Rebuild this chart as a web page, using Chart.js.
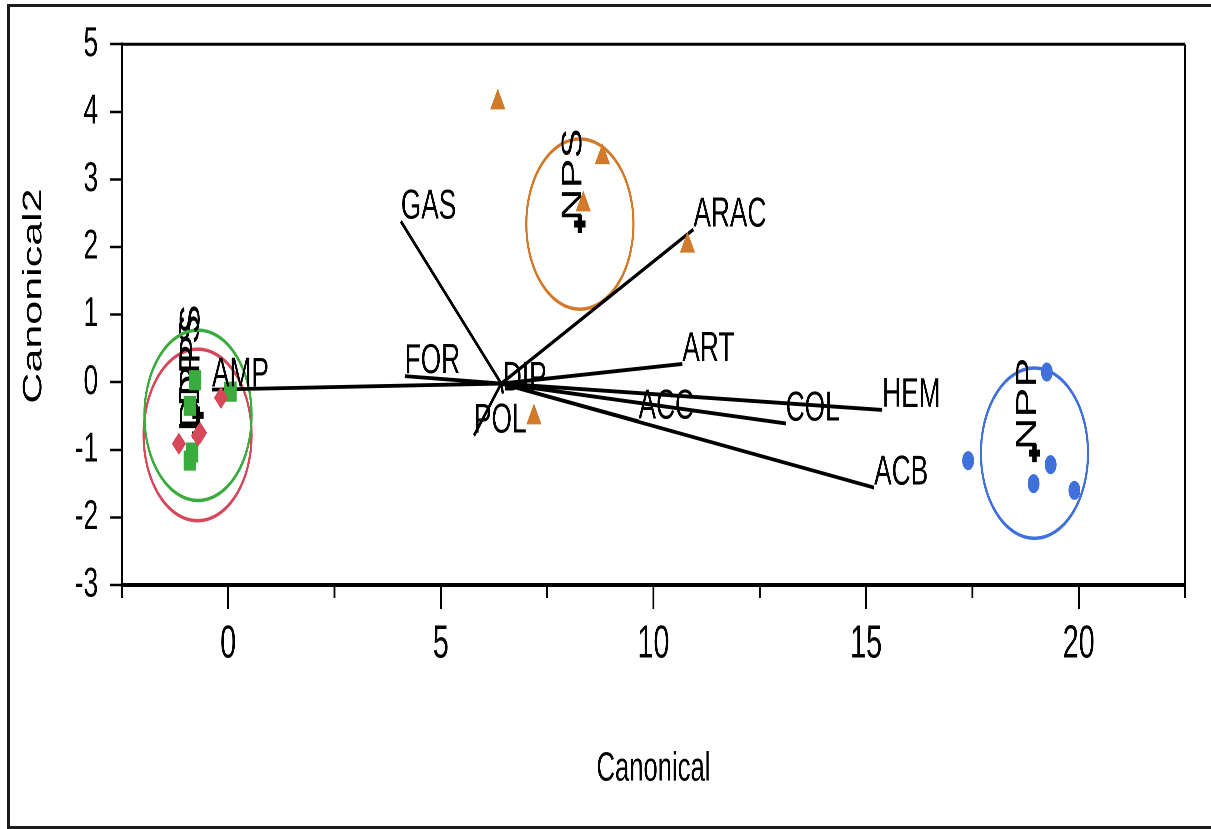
<!DOCTYPE html>
<html lang="en">
<head>
    <meta charset="UTF-8">
    <title>Canonical Plot</title>
    <script src="https://cdn.jsdelivr.net/npm/chart.js"></script>
    <style>
        html, body {
            margin: 0;
            padding: 0;
            background: #ffffff;
            overflow: hidden;
            width: 1211px;
            height: 829px;
        }

        /* outer frame around the whole picture */
        .frame {
            position: absolute;
            left: 7px;
            top: 4px;
            width: 1230px;
            height: 825px;
            box-sizing: border-box;
            border: 3px solid #1c1c1c;
        }

        /* the original picture is squeezed horizontally, so draw wide and squeeze */
        .chart-wrap {
            position: absolute;
            left: 0;
            top: 0;
            width: 1938px;
            height: 829px;
            transform: scaleX(0.625);
            transform-origin: 0 0;
        }
    </style>
</head>
<body>
    <div class="frame"></div>
    <div class="chart-wrap">
        <canvas id="canonicalPlot"></canvas>
    </div>

    <script>
        // Groups: name, colour, marker, centroid, circle radius
        const groupNames = ['NPS', 'NPP', 'LDPS', 'DRPS'];
        const groupColors = ['#d27a2a', '#4070dc', '#d6485a', '#3aac3e'];
        const groupMarkers = ['triangle', 'circle', 'rectRot', 'rect'];
        const centroidX = [8.27, 18.96, -0.72, -0.71];
        const centroidY = [2.34, -1.05, -0.78, -0.49];
        const circleR = [1.26, 1.26, 1.27, 1.26];

        // Observations of each group
        const npsX = [6.34, 8.8, 8.35, 10.8, 7.19];
        const npsY = [4.14, 3.33, 2.63, 2.02, -0.52];
        const nppX = [19.25, 17.4, 19.34, 18.94, 19.9];
        const nppY = [0.15, -1.16, -1.22, -1.5, -1.6];
        const ldpsX = [-0.17, -1.16, -0.71, -0.66];
        const ldpsY = [-0.23, -0.91, -0.79, -0.75];
        const drpsX = [-0.78, -0.9, 0.05, -0.85, -0.9];
        const drpsY = [0.03, -0.35, -0.14, -1.04, -1.16];

        // Biplot rays from a common origin
        const rayOrigin = { x: 6.42, y: -0.02 };
        const rayNames = ['GAS', 'ARAC', 'FOR', 'AMP', 'ART', 'DIP', 'POL', 'ACC', 'COL', 'HEM', 'ACB'];
        const rayX = [4.06, 10.94, 4.15, -0.38, 10.68, 6.46, 5.78, 9.65, 13.11, 15.38, 15.19];
        const rayY = [2.38, 2.26, 0.09, -0.11, 0.27, -0.17, -0.79, -0.58, -0.61, -0.41, -1.56];

        // Axis ticks
        const xMin = -2.5, xMax = 22.5;
        const xTicks = [0, 5, 10, 15, 20];
        const xMinorTicks = [-2.5, 2.5, 7.5, 12.5, 17.5, 22.5];
        const yMin = -3, yMax = 5, yStep = 1;

        const groupX = [npsX, nppX, ldpsX, drpsX];
        const groupY = [npsY, nppY, ldpsY, drpsY];
        // small nudge (px) so the two overlapping labels stack like the original
        const groupLabelShift = [0, 0, 0, 17];

        function toPoints(xs, ys) {
            return xs.map((v, i) => ({ x: v, y: ys[i] }));
        }

        const labelFont = '42px "Liberation Sans", Arial, sans-serif';
        const groupFont = '45px "Liberation Sans", Arial, sans-serif';
        const yTitleFont = '43px "Liberation Sans", Arial, sans-serif';

        // circles, group labels, ray labels, y title, top/right frame and minor ticks
        const extras = {
            id: 'extras',
            beforeDatasetsDraw(chart) {
                const { ctx, scales: { x, y } } = chart;
                ctx.save();
                groupNames.forEach((name, i) => {
                    const cx = x.getPixelForValue(centroidX[i]);
                    const cy = y.getPixelForValue(centroidY[i]);
                    const rx = x.getPixelForValue(centroidX[i] + circleR[i]) - cx;
                    const ry = cy - y.getPixelForValue(centroidY[i] + circleR[i]);
                    ctx.beginPath();
                    ctx.ellipse(cx, cy, rx, ry, 0, 0, Math.PI * 2);
                    ctx.strokeStyle = groupColors[i];
                    ctx.lineWidth = 3.5;
                    ctx.stroke();

                    ctx.save();
                    ctx.translate(cx + 2, cy - 3 + groupLabelShift[i]);
                    ctx.rotate(-Math.PI / 2);
                    ctx.font = groupFont;
                    ctx.fillStyle = '#000';
                    ctx.textAlign = 'left';
                    ctx.textBaseline = 'alphabetic';
                    ctx.fillText(name, 0, 0);
                    ctx.restore();
                });
                ctx.restore();
            },
            afterDatasetsDraw(chart) {
                const { ctx, scales: { x, y } } = chart;
                ctx.save();
                ctx.font = labelFont;
                ctx.fillStyle = '#000';
                ctx.textAlign = 'left';
                ctx.textBaseline = 'alphabetic';
                rayNames.forEach((name, i) => {
                    ctx.fillText(name, x.getPixelForValue(rayX[i]), y.getPixelForValue(rayY[i]) - 3);
                });
                ctx.restore();
            },
            afterDraw(chart) {
                const { ctx, chartArea: a, scales: { x } } = chart;
                ctx.save();
                ctx.strokeStyle = '#000';
                ctx.lineWidth = 3;
                ctx.beginPath();
                ctx.moveTo(a.left, a.top);
                ctx.lineTo(a.right, a.top);
                ctx.moveTo(a.right, a.top);
                ctx.lineTo(a.right, a.bottom);
                ctx.stroke();
                xMinorTicks.forEach(v => {
                    const px = x.getPixelForValue(v);
                    ctx.beginPath();
                    ctx.moveTo(px, a.bottom);
                    ctx.lineTo(px, a.bottom + 13);
                    ctx.stroke();
                });

                // y axis title, sits a little above the middle of the axis
                ctx.translate(54, 296);
                ctx.rotate(-Math.PI / 2);
                ctx.font = yTitleFont;
                ctx.fillStyle = '#000';
                ctx.textAlign = 'center';
                ctx.textBaseline = 'middle';
                ctx.fillText('Canonical2', 0, 0);
                ctx.restore();
            }
        };

        const datasets = [];

        groupNames.forEach((name, i) => {
            datasets.push({
                label: name,
                data: toPoints(groupX[i], groupY[i]),
                pointStyle: groupMarkers[i],
                pointRadius: [13, 9, 10.5, 13.5][i],
                backgroundColor: groupColors[i],
                borderColor: groupColors[i],
                borderWidth: 1
            });
        });

        // centroids, drawn just under the group markers
        datasets.push({
            label: 'centroids',
            data: toPoints(centroidX, centroidY),
            pointStyle: 'cross',
            pointRadius: 9,
            borderColor: '#000',
            borderWidth: 7
        });

        rayNames.forEach((name, i) => {
            datasets.push({
                label: name,
                data: [rayOrigin, { x: rayX[i], y: rayY[i] }],
                showLine: true,
                pointRadius: 0,
                borderColor: '#000',
                borderWidth: 3.8,
                fill: false
            });
        });

        const ctx = document.getElementById('canonicalPlot').getContext('2d');
        new Chart(ctx, {
            type: 'scatter',
            data: { datasets: datasets },
            plugins: [extras],
            options: {
                responsive: true,
                maintainAspectRatio: false,
                animation: false,
                devicePixelRatio: 2,
                layout: {
                    padding: { left: 0, right: 42, top: 42, bottom: 0 }
                },
                plugins: {
                    legend: { display: false },
                    tooltip: { enabled: false }
                },
                scales: {
                    x: {
                        type: 'linear',
                        min: xMin,
                        max: xMax,
                        afterFit: scale => { scale.height = 244; },
                        afterBuildTicks: scale => {
                            scale.ticks = xTicks.map(v => ({ value: v }));
                        },
                        border: { display: true, color: '#000', width: 4 },
                        grid: {
                            drawOnChartArea: false,
                            drawTicks: true,
                            tickLength: 24,
                            tickWidth: 3,
                            tickColor: '#000'
                        },
                        ticks: {
                            color: '#000',
                            padding: 8,
                            font: { family: '"Liberation Sans Narrow", "Liberation Sans", Arial', size: 46 }
                        },
                        title: {
                            display: true,
                            text: 'Canonical',
                            color: '#000',
                            padding: { top: 0, bottom: 35 },
                            font: { family: '"Liberation Sans", Arial', size: 41 }
                        }
                    },
                    y: {
                        type: 'linear',
                        min: yMin,
                        max: yMax,
                        afterFit: scale => { scale.width = 195; },
                        border: { display: true, color: '#000', width: 3 },
                        grid: {
                            drawOnChartArea: false,
                            drawTicks: true,
                            tickLength: 19,
                            tickWidth: 2.5,
                            tickColor: '#000'
                        },
                        ticks: {
                            stepSize: yStep,
                            color: '#000',
                            padding: 19,
                            font: { family: '"Liberation Sans", Arial', size: 42 }
                        },
                        title: { display: false }
                    }
                }
            }
        });
    </script>
</body>
</html>
